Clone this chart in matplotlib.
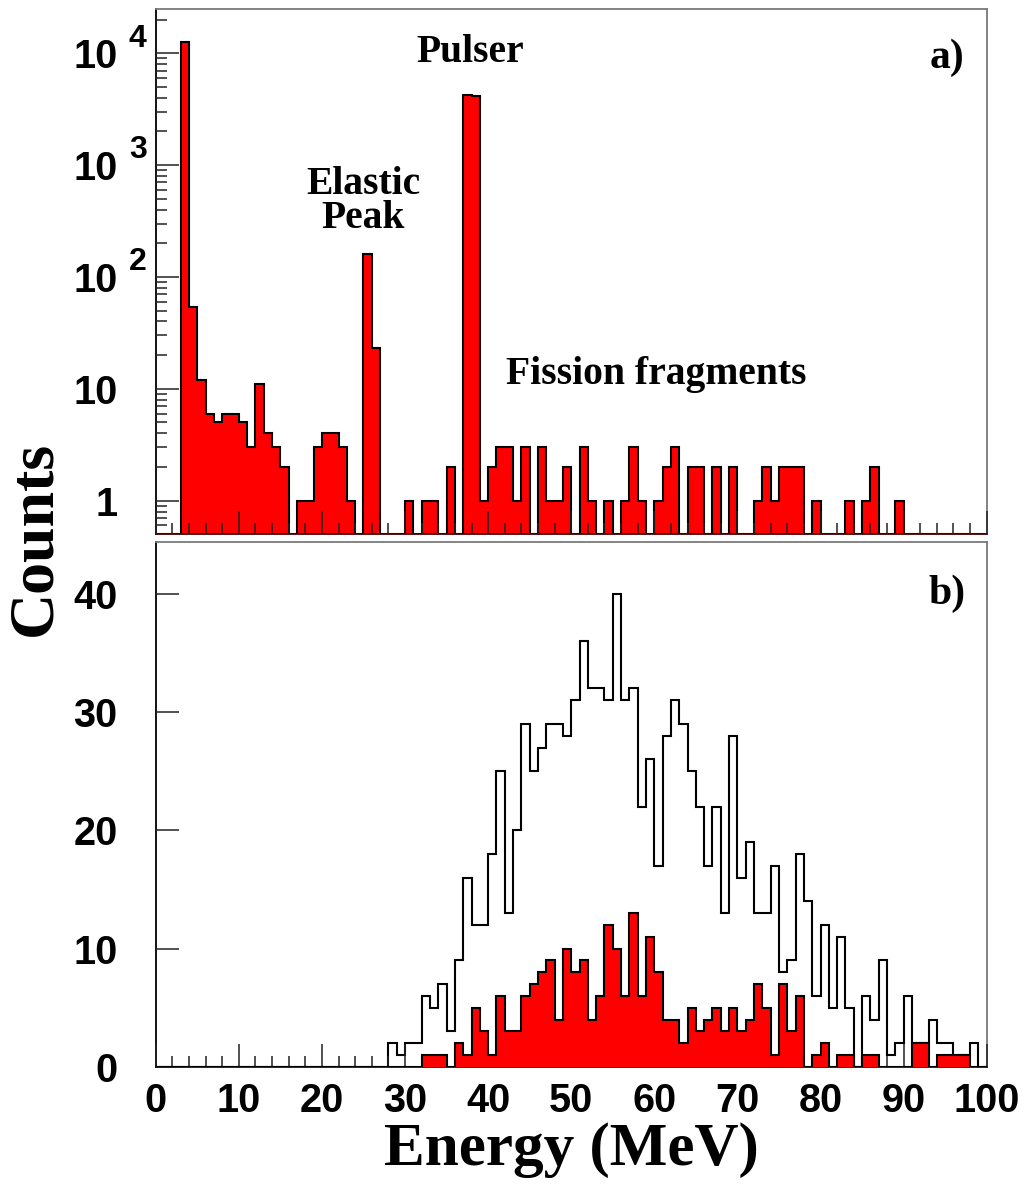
import numpy as np
import matplotlib
matplotlib.use('Agg')
import matplotlib.pyplot as plt
import matplotlib.transforms as mtransforms
from matplotlib.ticker import FixedLocator, MultipleLocator, NullFormatter

plt.rcParams['font.family'] = 'Liberation Sans'
plt.rcParams['font.weight'] = 'bold'

# 1 MeV bins from 0 to 100 MeV
bin_edges = np.arange(0, 101, 1)

# a) raw spectrum, counts per bin
raw_counts = [
    0, 0, 0, 12600, 54, 12, 6, 5, 6, 6,
    5, 3, 11, 4, 3, 2, 0, 1, 1, 3,
    4, 4, 3, 1, 0, 162, 23, 0, 0, 0,
    1, 0, 1, 1, 0, 2, 0, 4220, 4130, 1,
    2, 3, 3, 1, 3, 0, 3, 1, 1, 2,
    0, 3, 1, 0, 1, 0, 1, 3, 1, 0,
    1, 2, 3, 0, 2, 2, 0, 2, 0, 2,
    0, 0, 1, 2, 1, 2, 2, 2, 0, 1,
    0, 0, 0, 1, 0, 1, 2, 0, 0, 1,
    0, 0, 0, 0, 0, 0, 0, 0, 0, 0,
]

# b) all fission fragments (open) and selected ones (filled)
all_fragments = [
    0, 0, 0, 0, 0, 0, 0, 0, 0, 0,
    0, 0, 0, 0, 0, 0, 0, 0, 0, 0,
    0, 0, 0, 0, 0, 0, 0, 0, 2, 1,
    2, 2, 6, 5, 7, 3, 9, 16, 12, 12,
    18, 25, 13, 20, 29, 25, 27, 29, 29, 28,
    31, 36, 32, 32, 31, 40, 31, 32, 22, 26,
    17, 28, 31, 29, 25, 22, 17, 22, 13, 28,
    16, 19, 13, 13, 17, 8, 9, 18, 14, 6,
    12, 5, 11, 5, 0, 6, 4, 9, 1, 2,
    6, 2, 2, 4, 2, 2, 1, 1, 2, 0,
]
selected_fragments = [
    0, 0, 0, 0, 0, 0, 0, 0, 0, 0,
    0, 0, 0, 0, 0, 0, 0, 0, 0, 0,
    0, 0, 0, 0, 0, 0, 0, 0, 0, 0,
    0, 0, 1, 1, 1, 0, 2, 1, 5, 3,
    1, 6, 3, 3, 6, 7, 8, 9, 4, 10,
    8, 9, 4, 6, 12, 10, 6, 13, 6, 11,
    8, 4, 4, 2, 5, 3, 4, 5, 3, 5,
    3, 4, 7, 5, 1, 7, 3, 6, 0, 1,
    2, 0, 1, 1, 0, 1, 1, 0, 0, 0,
    0, 2, 2, 0, 1, 1, 1, 1, 0, 0,
]

log_decades = [1, 10, 100, 1000, 10000]
log_labels = ['1', '10', '10', '10', '10']
log_exponents = {100: '2', 1000: '3', 10000: '4'}
lin_ticks = [0, 10, 20, 30, 40]

fig = plt.figure(figsize=(10.26, 11.9), dpi=100)
ax1 = fig.add_axes([0.1518, 0.5513, 0.8099, 0.4412])
ax2 = fig.add_axes([0.1518, 0.1034, 0.8099, 0.4409])

line_w = 1.5
tick_font = 28.5


def style_axes(ax):
    ax.set_xlim(0, 100)
    ax.xaxis.set_major_locator(MultipleLocator(10))
    ax.xaxis.set_minor_locator(MultipleLocator(2))
    ax.tick_params(which='both', direction='in', top=False, right=False,
                   width=1.1, color='#222222', labelsize=tick_font)
    ax.tick_params(which='major', length=16.5)
    ax.tick_params(which='minor', length=8)
    ax.tick_params(axis='y', pad=27.5)
    ax.tick_params(axis='x', pad=11)
    ax.set_axisbelow(False)
    for side in ('left', 'bottom'):
        ax.spines[side].set_color('black')
        ax.spines[side].set_linewidth(1.3)
    ax.spines['bottom'].set_color('#4a0000')
    for side in ('top', 'right'):
        ax.spines[side].set_color('#7a7a7a')
        ax.spines[side].set_linewidth(1.3)


# a) log scale spectrum
y_low, y_high = 0.504, 2.49e4
raw_plot = np.maximum(np.array(raw_counts, dtype=float), y_low)
ax1.set_yscale('log')
ax1.set_ylim(y_low, y_high)
ax1.stairs(raw_plot, bin_edges, baseline=y_low, fill=True,
           facecolor='#ff0000', edgecolor='none', zorder=1)
ax1.stairs(raw_plot, bin_edges, baseline=y_low, color='black',
           linewidth=line_w, zorder=2)
style_axes(ax1)
ax1.yaxis.set_major_locator(FixedLocator(log_decades))
ax1.yaxis.set_minor_locator(FixedLocator(
    [m * 10.0 ** k for k in range(-1, 5) for m in range(2, 10)]))
ax1.yaxis.set_minor_formatter(NullFormatter())
ax1.set_yticklabels(log_labels)
ax1.tick_params(axis='x', labelbottom=False)

# exponents next to the "10" labels
exp_trans = mtransforms.offset_copy(ax1.get_yaxis_transform(), fig=fig,
                                    x=0, y=6.6, units='dots')
for value, expo in log_exponents.items():
    ax1.text(-0.0322, value, expo, transform=exp_trans, ha='left',
             va='baseline', fontsize=23, fontweight='bold')

serif = 'Liberation Serif'
ax1.text(0.3786, 0.9162, 'Pulser', transform=ax1.transAxes, ha='center',
         va='center', family=serif, fontsize=28.5, fontweight='bold')
ax1.text(0.2494, 0.6330, 'Elastic\nPeak', transform=ax1.transAxes,
         ha='center', va='center', multialignment='center',
         linespacing=0.88, family=serif, fontsize=28.5, fontweight='bold')
ax1.text(0.4216, 0.3029, 'Fission fragments', transform=ax1.transAxes,
         ha='left', va='center', family=serif, fontsize=28.5,
         fontweight='bold')
ax1.text(0.9735, 0.9070, 'a)', transform=ax1.transAxes, ha='right',
         va='center', family=serif, fontsize=30, fontweight='bold')

# b) fission fragment energies, linear scale
ax2.set_ylim(0, 44.35)
ax2.stairs(all_fragments, bin_edges, baseline=0, color='black',
           linewidth=line_w, zorder=2)
ax2.stairs(selected_fragments, bin_edges, baseline=0, fill=True,
           facecolor='#ff0000', edgecolor='none', zorder=3)
ax2.stairs(selected_fragments, bin_edges, baseline=0, color='black',
           linewidth=line_w, zorder=4)
style_axes(ax2)
ax2.yaxis.set_major_locator(FixedLocator(lin_ticks))
ax2.yaxis.set_minor_locator(FixedLocator([]))
ax2.text(0.9747, 0.9015, 'b)', transform=ax2.transAxes, ha='right',
         va='center', family=serif, fontsize=30, fontweight='bold')

fig.text(35 / 1026, 1 - 538 / 1190, 'Counts', rotation=90, ha='center',
         va='center', family=serif, fontsize=46, fontweight='bold')
fig.text(571 / 1026, 1 - 1150 / 1190, 'Energy (MeV)', ha='center',
         va='center', family=serif, fontsize=44, fontweight='bold')

fig.savefig('out.png', dpi=100, facecolor='white')
